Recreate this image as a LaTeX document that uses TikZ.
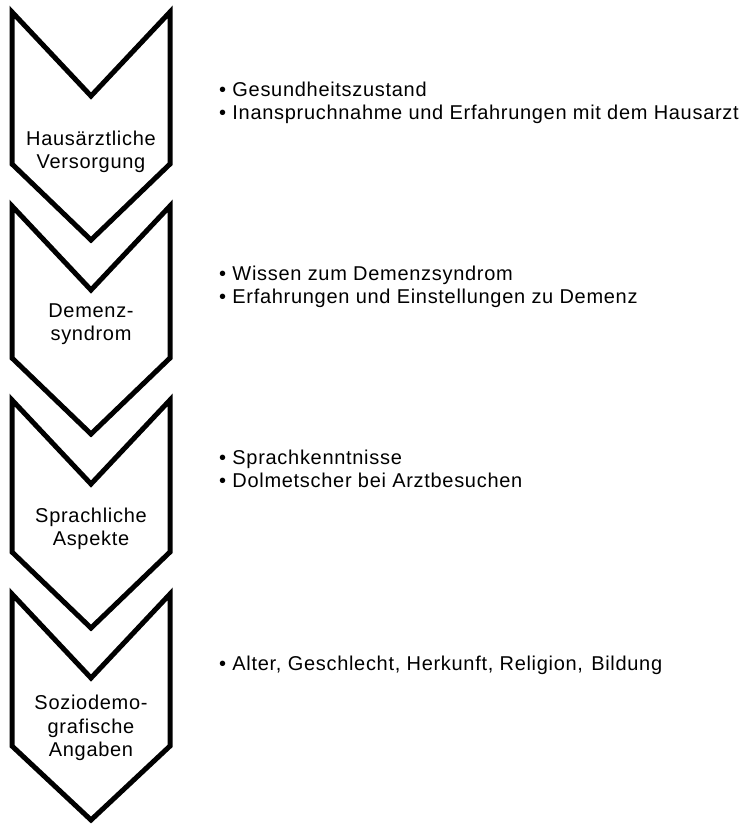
\documentclass[tikz,border=0pt]{standalone}
\usepackage{fontspec}
\newfontfamily\diafont{Liberation Sans}[LetterSpace=3.5]
\usetikzlibrary{positioning}
\tikzstyle{chevron} = [line width=5pt, draw=black, fill=white, miter limit=10]
\tikzstyle{stage} = [align=center, font=\diafont\fontsize{20}{23.5}\selectfont, inner sep=0pt]
\tikzstyle{items} = [align=left, anchor=west, font=\diafont\fontsize{20}{23.5}\selectfont, inner sep=0pt]

\begin{document}
\begin{tikzpicture}[x=1pt, y=-1pt]
		\useasboundingbox (0,0) rectangle (745,825);
		% chevrons
		\draw [chevron] (12,12) -- (91,96) -- (170,12) -- (170,164) -- (91,240) -- (12,164) -- cycle;
		\draw [chevron] (12,206) -- (91,290) -- (170,206) -- (170,358) -- (91,434) -- (12,358) -- cycle;
		\draw [chevron] (12,400) -- (91,484) -- (170,400) -- (170,552) -- (91,628) -- (12,552) -- cycle;
		\draw [chevron] (12,594) -- (91,678) -- (170,594) -- (170,746) -- (91,820) -- (12,746) -- cycle;

		\node (s1) [stage] at (91,152) {Hausärztliche\\Versorgung};
		\node (s2) [stage] at (91,324) {Demenz-\\syndrom};
		\node (s3) [stage] at (91,529) {Sprachliche\\Aspekte};
		\node (s4) [stage] at (91,728) {Soziodemo-\\grafische\\Angaben};

		\node (i1) [items] at (219,103) {• Gesundheitszustand\\• Inanspruchnahme und Erfahrungen mit dem Hausarzt};
		\node (i2) [items] at (219,287) {• Wissen zum Demenzsyndrom\\• Erfahrungen und Einstellungen zu Demenz};
		\node (i3) [items] at (219,469) {• Sprachkenntnisse\\• Dolmetscher bei Arztbesuchen};
		\node (i4) [items] at (219,665) {• Alter, Geschlecht, Herkunft, Religion, \hspace{2pt}Bildung};
\end{tikzpicture}
\end{document}
